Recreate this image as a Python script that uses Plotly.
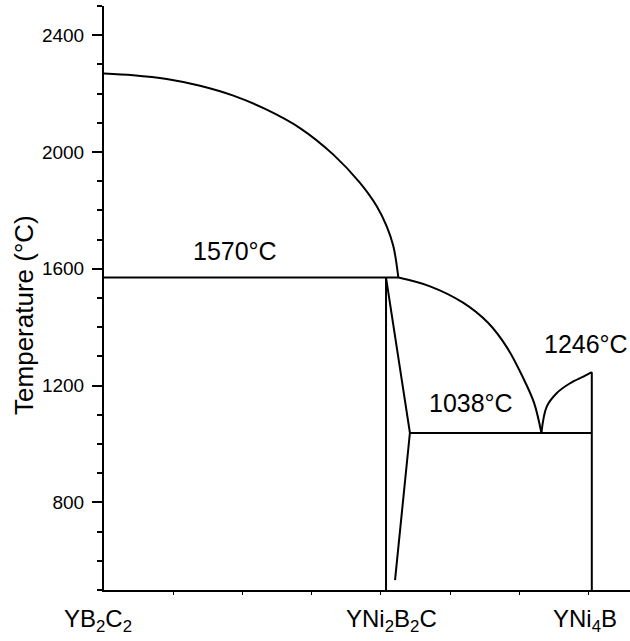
import plotly.graph_objects as go

# Compositions of the three compounds along the section
compound_names = ["YB<sub>2</sub>C<sub>2</sub>", "YNi<sub>2</sub>B<sub>2</sub>C", "YNi<sub>4</sub>B"]
compound_x = [0.0, 0.4075, 0.7048]

# Liquidus of the YB2C2 primary field
liq1_x = [0.0, 0.0423, 0.0906, 0.1387, 0.1869, 0.2351, 0.2832, 0.3314, 0.3699, 0.3941, 0.4085, 0.4181, 0.4253]
liq1_T = [2269, 2263, 2250, 2227, 2193, 2145, 2082, 1991, 1894, 1814, 1745, 1677, 1570]

# Liquidus of the YNi2B2C primary field
liq2_x = [0.4253, 0.4711, 0.5188, 0.5549, 0.5824, 0.6055, 0.6214, 0.632]
liq2_T = [1570, 1540, 1484, 1415, 1330, 1227, 1141, 1038]

# Liquidus of the YNi4B primary field
liq3_x = [0.632, 0.6397, 0.654, 0.6734, 0.6926, 0.7048]
liq3_T = [1038, 1128, 1174, 1208, 1231, 1246]

# Invariant temperatures
T_peritectic = 1570
T_eutectic = 1038
T_melt_ni4b = 1246
T_min = 500

# YNi2B2C homogeneity range boundary
hom_x = [0.4075, 0.442, 0.4205]
hom_T = [1570, 1038, 534]

temp_labels = [f"{T_peritectic}°C", f"{T_eutectic}°C", f"{T_melt_ni4b}°C"]
temp_label_x = [0.189, 0.530, 0.697]
temp_label_T = [1662, 1141, 1343]

line = dict(color="black", width=2)
fig = go.Figure()

def seg(xs, ys, shape="linear"):
    fig.add_trace(go.Scatter(x=xs, y=ys, mode="lines", line=dict(**line, shape=shape),
                             showlegend=False, hoverinfo="skip", cliponaxis=False))

seg(liq1_x, liq1_T, "spline")
seg(liq2_x, liq2_T, "spline")
seg(liq3_x, liq3_T, "spline")
seg([0.0, liq1_x[-1]], [T_peritectic, T_peritectic])
seg([compound_x[1], compound_x[1]], [T_peritectic, T_min])
seg(hom_x, hom_T)
seg([hom_x[1], compound_x[2]], [T_eutectic, T_eutectic])
seg([compound_x[2], compound_x[2]], [T_melt_ni4b, T_min])

font_family = "Arial, Liberation Sans, sans-serif"

for txt, x, T in zip(temp_labels, temp_label_x, temp_label_T):
    fig.add_annotation(x=x, y=T, xref="x", yref="y", text=txt, showarrow=False,
                       font=dict(family=font_family, size=25, color="black"))

label_shift = [-6.5, 5, -7]
for txt, x, dx in zip(compound_names, compound_x, label_shift):
    fig.add_annotation(x=x, y=0, xref="x", yref="paper", text=txt, showarrow=False,
                       xanchor="center", yanchor="top", xshift=dx, yshift=-13,
                       font=dict(family=font_family, size=24, color="black"))

fig.add_annotation(x=0, y=0.471, xref="paper", yref="paper", text="Temperature (°C)",
                   showarrow=False, textangle=-90, xanchor="center", yanchor="middle",
                   xshift=-80, font=dict(family=font_family, size=26, color="black"))

fig.update_xaxes(range=[0, 0.76], showline=True, linecolor="black", linewidth=2,
                 showgrid=False, zeroline=False, showticklabels=False,
                 ticks="outside", tickvals=[0.1 * i for i in range(1, 8)],
                 ticklen=3, tickwidth=1, tickcolor="black")
fig.update_yaxes(range=[500, 2500], showline=True, linecolor="black", linewidth=2,
                 showgrid=False, zeroline=False, ticks="outside",
                 tickvals=[800, 1200, 1600, 2000, 2400], ticklen=10, tickwidth=2,
                 tickcolor="black", ticklabelstandoff=4,
                 tickfont=dict(family=font_family, size=19, color="black"),
                 minor=dict(ticks="outside", dtick=100, tick0=500, ticklen=5,
                            tickwidth=2, tickcolor="black", showgrid=False))

fig.update_layout(width=630, height=641, margin=dict(l=104, r=0, t=6, b=51),
                  plot_bgcolor="white", paper_bgcolor="white")

fig.write_html("out.html")
